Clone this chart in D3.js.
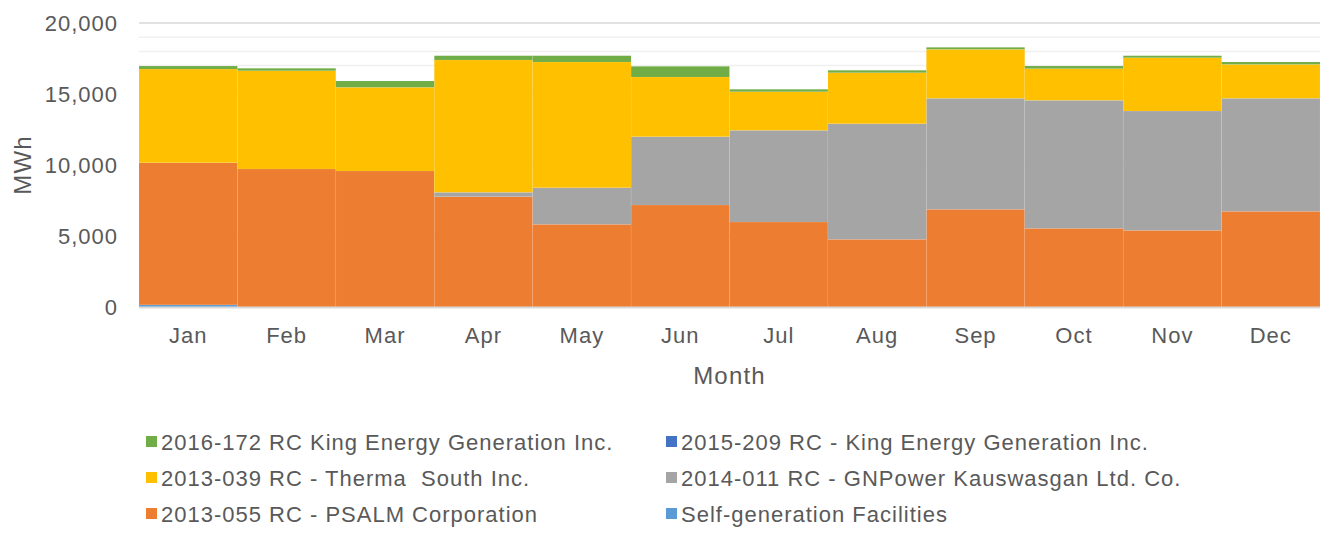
<!DOCTYPE html>
<html>
<head>
<meta charset="utf-8">
<script src="https://cdn.jsdelivr.net/npm/d3@7"></script>
<style>
  body { margin: 0; background: #fff; }
  text { font-family: "Liberation Sans", Arial, sans-serif; fill: #595959; white-space: pre; }
</style>
</head>
<body>
<div class="chart"></div>
<script>
// chart data (MWh)
var months = ["Jan", "Feb", "Mar", "Apr", "May", "Jun", "Jul", "Aug", "Sep", "Oct", "Nov", "Dec"];
var selfGen   = [150, 0, 0, 0, 0, 0, 0, 0, 0, 0, 0, 0];
var psalm     = [10010, 9718, 9577, 7767, 5824, 7183, 5986, 4767, 6880, 5540, 5399, 6739];
var gnpower   = [0, 0, 0, 310, 2577, 4810, 6457, 8141, 7817, 9016, 8404, 7958];
var therma    = [6598, 6922, 5893, 9317, 8852, 4204, 2719, 3592, 3449, 2228, 3753, 2391];
var king2015  = [0, 0, 0, 0, 0, 0, 0, 0, 0, 0, 0, 0];
var king2016  = [212, 170, 445, 303, 444, 753, 169, 169, 141, 188, 141, 165];
var yTicks = [0, 5000, 10000, 15000, 20000];
var minorLines = [17000, 18000, 19000];

// series, bottom of stack first
var series = [
  { key: "self", name: "Self-generation Facilities", color: "#5b9bd5", values: selfGen },
  { key: "psalm", name: "2013-055 RC - PSALM Corporation", color: "#ed7d31", values: psalm },
  { key: "gnpower", name: "2014-011 RC - GNPower Kauswasgan Ltd. Co.", color: "#a5a5a5", values: gnpower },
  { key: "therma", name: "2013-039 RC - Therma  South Inc.", color: "#ffc000", values: therma },
  { key: "king2015", name: "2015-209 RC - King Energy Generation Inc.", color: "#4472c4", values: king2015 },
  { key: "king2016", name: "2016-172 RC King Energy Generation Inc.", color: "#70ad47", values: king2016 }
];

var svgWidth = 1322;
var svgHeight = 540;
var margin = { top: 23, right: 2, bottom: 233, left: 139 };
var width = svgWidth - margin.left - margin.right;
var height = svgHeight - margin.top - margin.bottom;

var svg = d3.select(".chart")
  .append("svg")
  .attr("width", svgWidth)
  .attr("height", svgHeight);

var chart = svg.append("g")
  .attr("transform", "translate(" + margin.left + "," + margin.top + ")");

// build rows for d3.stack
var table = months.map(function(m, i) {
  var row = { month: m };
  series.forEach(function(s) { row[s.key] = s.values[i]; });
  return row;
});

var stacked = d3.stack().keys(series.map(function(s) { return s.key; }))(table);

var xScale = d3.scaleBand().domain(months).range([0, width]).padding(0);
var yScale = d3.scaleLinear().domain([0, 20000]).range([height, 0]);

// gridlines
chart.append("g").selectAll("line")
  .data(minorLines)
  .enter()
  .append("line")
  .attr("x1", 0).attr("x2", width)
  .attr("y1", function(d) { return yScale(d); })
  .attr("y2", function(d) { return yScale(d); })
  .attr("stroke", "#f0f0f0")
  .attr("stroke-width", 1.5);

chart.append("g").selectAll("line")
  .data(yTicks.filter(function(d) { return d > 0; }))
  .enter()
  .append("line")
  .attr("x1", 0).attr("x2", width)
  .attr("y1", function(d) { return yScale(d); })
  .attr("y2", function(d) { return yScale(d); })
  .attr("stroke", "#d9d9d9")
  .attr("stroke-width", 1.5);

// stacked columns with no gap
var layers = chart.append("g").selectAll("g")
  .data(stacked)
  .enter()
  .append("g")
  .attr("fill", function(d, i) { return series[i].color; });

layers.selectAll("rect")
  .data(function(d) { return d; })
  .enter()
  .append("rect")
  .attr("x", function(d) { return xScale(d.data.month); })
  .attr("width", xScale.bandwidth())
  .attr("y", function(d) { return yScale(d[1]); })
  .attr("height", function(d) { return yScale(d[0]) - yScale(d[1]); })
  .attr("stroke", "#ffffff")
  .attr("stroke-opacity", 0.15)
  .attr("stroke-width", 0.5);

// x axis line
chart.append("line")
  .attr("x1", 0).attr("x2", width)
  .attr("y1", height + 0.5).attr("y2", height + 0.5)
  .attr("stroke", "#d9d9d9")
  .attr("stroke-width", 2);

// tick labels
var bottomAxis = d3.axisBottom(xScale).tickSize(0).tickPadding(20);
var leftAxis = d3.axisLeft(yScale).tickValues(yTicks).tickSize(0).tickPadding(21).tickFormat(d3.format(","));

var gx = chart.append("g")
  .attr("transform", "translate(0," + height + ")")
  .call(bottomAxis);
gx.select(".domain").remove();
gx.selectAll("text")
  .style("font-size", "22px")
  .style("letter-spacing", "1px")
  .style("fill", "#595959")
  .attr("font-family", null);

var gy = chart.append("g").call(leftAxis);
gy.select(".domain").remove();
gy.selectAll("text")
  .style("font-size", "22px")
  .style("letter-spacing", "1px")
  .style("fill", "#595959")
  .attr("font-family", null);

// axis titles
svg.append("text")
  .attr("x", margin.left + width / 2)
  .attr("y", 384)
  .style("text-anchor", "middle")
  .style("font-size", "24px")
  .style("letter-spacing", "1.2px")
  .text("Month");

svg.append("text")
  .attr("transform", "translate(31," + (margin.top + height / 2) + ") rotate(-90)")
  .style("text-anchor", "middle")
  .style("font-size", "24px")
  .style("letter-spacing", "1.2px")
  .text("MWh");

// legend, two columns in the order shown
var legendOrder = ["king2016", "king2015", "therma", "gnpower", "psalm", "self"];
var legendX = [146, 666];
var legendY = [436, 472, 508];

var legend = svg.append("g").selectAll("g")
  .data(legendOrder)
  .enter()
  .append("g")
  .attr("transform", function(d, i) {
    return "translate(" + legendX[i % 2] + "," + legendY[Math.floor(i / 2)] + ")";
  });

legend.append("rect")
  .attr("width", 11)
  .attr("height", 11)
  .attr("fill", function(d) { return series.find(function(s) { return s.key === d; }).color; });

legend.append("text")
  .attr("x", 15)
  .attr("y", 6)
  .attr("dy", "0.35em")
  .style("font-size", "22px")
  .style("letter-spacing", "1px")
  .text(function(d) { return series.find(function(s) { return s.key === d; }).name; });
</script>
</body>
</html>
